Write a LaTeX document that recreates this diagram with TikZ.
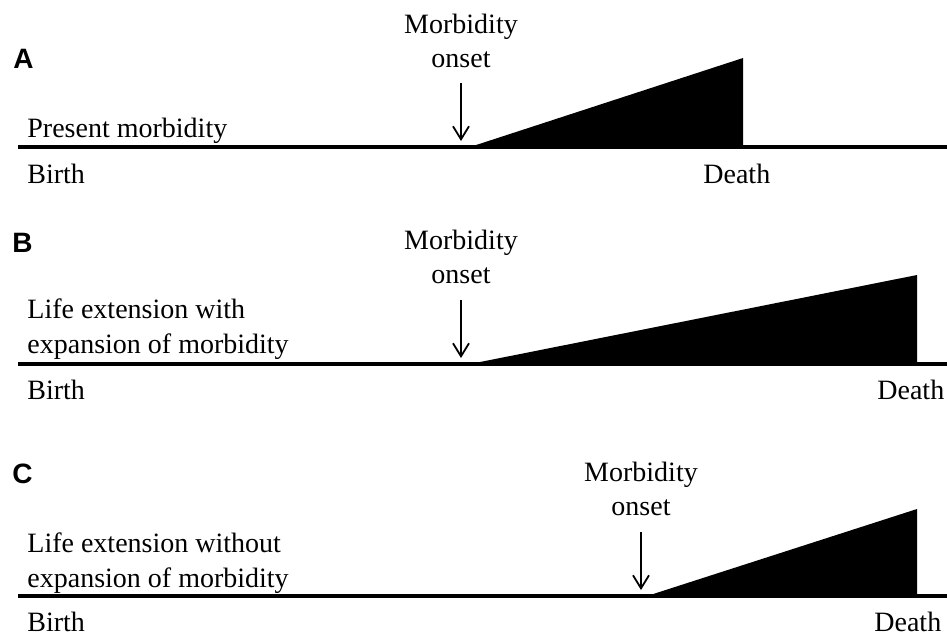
\documentclass[tikz,border=0pt]{standalone}
\usepackage{fontspec}
\setmainfont{Liberation Serif}
\newfontfamily\panelfont{Liberation Sans}
\usetikzlibrary{arrows.meta}

\begin{document}
\begin{tikzpicture}[x=0.5pt,y=-0.5pt,
  every node/.style={inner sep=0pt,font=\fontsize{14}{17}\selectfont},
  panel/.style={anchor=base west,font=\panelfont\bfseries\fontsize{14}{16}\selectfont},
  lbl/.style={anchor=base west,align=left},
  onset/.style={anchor=base,align=center},
  life/.style={line width=1.7pt},
  pointer/.style={line width=0.9pt,-{Straight Barb[length=6.5pt,width=8pt]}},
  load/.style={fill=black}]
\useasboundingbox (0,0) rectangle (947,634);

% A: present morbidity
\node[panel] (panA) at (13,68) {A};
\node[lbl] (textA) at (27,137) {Present morbidity};
\node[lbl] (birthA) at (27,183) {Birth};
\node[lbl] (deathA) at (703,183) {Death};
\node[onset] (onsetA) at (461,67) {Morbidity\\onset};
\coordinate (topA) at (461,83);
\coordinate (hitA) at (461,141);
\coordinate (startA) at (18,147);
\coordinate (endA) at (947,147);
\draw[life] (startA) -- (endA);
\fill[load] (470,147) -- (743,58) -- (743,147) -- cycle;
\draw[pointer] (topA) -- (hitA);

% B: longer life, longer morbidity
\node[panel] (panB) at (12,252) {B};
\node[lbl] (textB) at (27,318) {Life extension with};
\node[lbl] (textB2) at (27,353) {expansion of morbidity};
\node[lbl] (birthB) at (27,399) {Birth};
\node[lbl] (deathB) at (877,399) {Death};
\node[onset] (onsetB) at (461,283) {Morbidity\\onset};
\coordinate (topB) at (461,300);
\coordinate (hitB) at (461,358);
\coordinate (startB) at (18,364);
\coordinate (endB) at (947,364);
\draw[life] (startB) -- (endB);
\fill[load] (470,364) -- (917,275) -- (917,364) -- cycle;
\draw[pointer] (topB) -- (hitB);

% C: longer life, compressed morbidity
\node[panel] (panC) at (12,483) {C};
\node[lbl] (textC) at (27,552) {Life extension without};
\node[lbl] (textC2) at (27,587) {expansion of morbidity};
\node[lbl] (birthC) at (27,631) {Birth};
\node[lbl] (deathC) at (874,631) {Death};
\node[onset] (onsetC) at (641,515) {Morbidity\\onset};
\coordinate (topC) at (641,532);
\coordinate (hitC) at (641,590);
\coordinate (startC) at (18,596);
\coordinate (endC) at (947,596);
\draw[life] (startC) -- (endC);
\fill[load] (647,596) -- (917,509) -- (917,596) -- cycle;
\draw[pointer] (topC) -- (hitC);
\end{tikzpicture}
\end{document}
